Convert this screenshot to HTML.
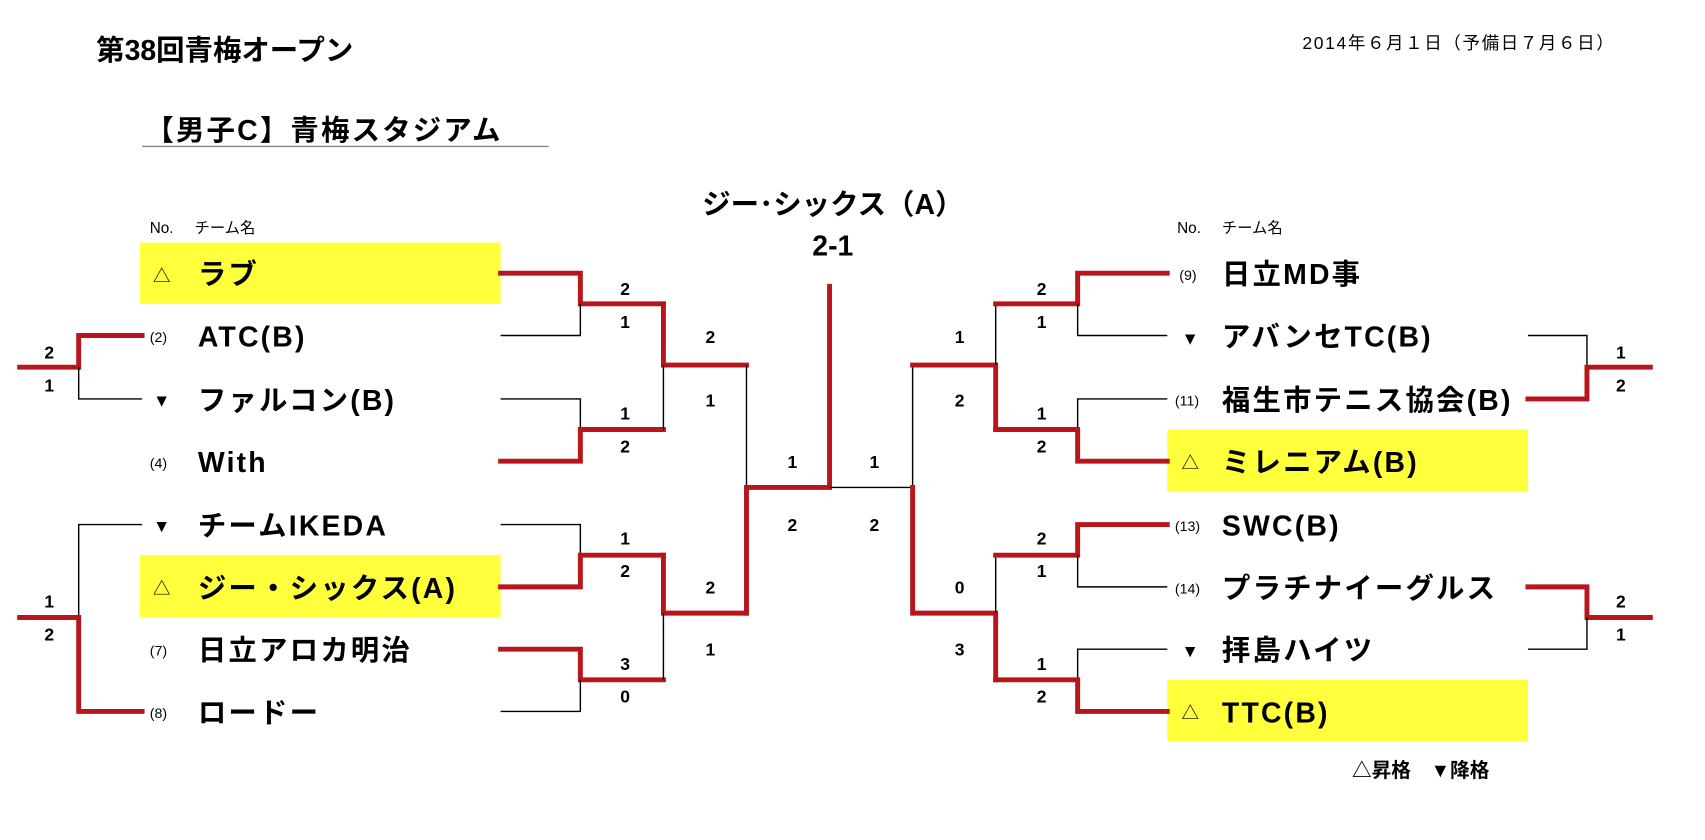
<!DOCTYPE html>
<html><head><meta charset="utf-8"><style>
html,body{margin:0;padding:0;background:#fff;}
svg{display:block;}
text{font-family:"Liberation Sans","Noto Sans CJK JP",sans-serif;fill:#000;}
.n{font-size:26px;font-weight:bold;letter-spacing:2px;}
.s{font-size:13px;}
.m{font-size:16px;}
.sc{font-size:16px;text-anchor:middle;font-weight:bold;}
.r{stroke:#b8161b;stroke-width:4.5;fill:none;stroke-linecap:square;}
.b{stroke:#000;stroke-width:1.3;fill:none;}
</style></head><body>
<svg width="1705" height="840" viewBox="0 0 1560 768.6" preserveAspectRatio="none" xmlns="http://www.w3.org/2000/svg">
<text x="88" y="55" style="font-size:26px;font-weight:bold">第38回青梅オープン</text>
<text x="1478" y="45" style="font-size:16px;text-anchor:end;letter-spacing:1.5px">2014年６月１日（予備日７月６日）</text>
<text x="133" y="128" style="font-size:26px;font-weight:bold;letter-spacing:2px">【男子C】青梅スタジアム</text>
<line x1="130" y1="134" x2="502" y2="134" stroke="#888" stroke-width="1.3"/>
<text x="762" y="196" style="font-size:26px;text-anchor:middle;font-weight:bold">ジー･シックス（A）</text>
<text x="762" y="234" style="font-size:26px;text-anchor:middle;font-weight:bold">2-1</text>
<text x="137" y="213" style="font-size:14px">No.</text><text x="178" y="213" style="font-size:14px">チーム名</text>
<text x="1077" y="213" style="font-size:14px">No.</text><text x="1118" y="213" style="font-size:14px">チーム名</text>
<rect x="128" y="222" width="330" height="56" fill="#ffff3c"/>
<rect x="128" y="508" width="330" height="57" fill="#ffff3c"/>
<rect x="1068" y="393" width="330" height="57" fill="#ffff3c"/>
<rect x="1068" y="622" width="330" height="56" fill="#ffff3c"/>
<text class="m" x="140" y="258">△</text><text class="n" x="181" y="260">ラブ</text>
<text class="s" x="137" y="313">(2)</text><text class="n" x="181" y="317">ATC(B)</text>
<text class="m" x="140" y="372">▼</text><text class="n" x="181" y="375">ファルコン(B)</text>
<text class="s" x="137" y="428">(4)</text><text class="n" x="181" y="432">With</text>
<text class="m" x="140" y="487">▼</text><text class="n" x="181" y="490">チームIKEDA</text>
<text class="m" x="140" y="544">△</text><text class="n" x="181" y="547">ジー・シックス(A)</text>
<text class="s" x="137" y="600">(7)</text><text class="n" x="181" y="604">日立アロカ明治</text>
<text class="s" x="137" y="657">(8)</text><text class="n" x="181" y="661">ロードー</text>
<text class="s" x="1079" y="256">(9)</text><text class="n" x="1118" y="260">日立MD事</text>
<text class="m" x="1081" y="315">▼</text><text class="n" x="1118" y="317">アバンセTC(B)</text>
<text class="s" x="1075" y="371">(11)</text><text class="n" x="1118" y="375">福生市テニス協会(B)</text>
<text class="m" x="1081" y="429">△</text><text class="n" x="1118" y="432">ミレニアム(B)</text>
<text class="s" x="1075" y="486">(13)</text><text class="n" x="1118" y="490">SWC(B)</text>
<text class="s" x="1075" y="543">(14)</text><text class="n" x="1118" y="547">プラチナイーグルス</text>
<text class="m" x="1081" y="601">▼</text><text class="n" x="1118" y="604">拝島ハイツ</text>
<text class="m" x="1081" y="658">△</text><text class="n" x="1118" y="661">TTC(B)</text>
<text x="1237" y="711" style="font-size:18px;font-weight:bold">△昇格　▼降格</text>
<polyline class="r" points="458,250 531,250 531,278 607,278"/>
<polyline class="b" points="458,307 531,307 531,278"/>
<polyline class="b" points="458,365 531,365 531,393"/>
<polyline class="r" points="458,422 531,422 531,393 607,393"/>
<polyline class="b" points="458,480 531,480 531,508"/>
<polyline class="r" points="458,537 531,537 531,508 607,508"/>
<polyline class="r" points="458,594 531,594 531,622 607,622"/>
<polyline class="b" points="458,651 531,651 531,622"/>
<polyline class="r" points="607,278 607,334 683,334"/>
<polyline class="b" points="607,393 607,334"/>
<polyline class="r" points="607,508 607,561 683,561"/>
<polyline class="b" points="607,622 607,561"/>
<polyline class="b" points="683,334 683,446"/>
<polyline class="r" points="683,561 683,446 759,446 759,262"/>
<polyline class="b" points="759,446 835,446 835,334"/>
<polyline class="r" points="835,446 835,561 911,561 911,622"/>
<polyline class="b" points="911,561 911,508"/>
<polyline class="r" points="835,334 911,334 911,393"/>
<polyline class="b" points="911,334 911,278"/>
<polyline class="r" points="1068,250 986,250 986,278 911,278"/>
<polyline class="b" points="1068,307 986,307 986,278"/>
<polyline class="b" points="1068,365 986,365 986,393"/>
<polyline class="r" points="1068,422 986,422 986,393 911,393"/>
<polyline class="r" points="1068,480 986,480 986,508 911,508"/>
<polyline class="b" points="1068,537 986,537 986,508"/>
<polyline class="b" points="1068,594 986,594 986,622"/>
<polyline class="r" points="1068,651 986,651 986,622 911,622"/>
<polyline class="r" points="130,307 72,307 72,336 18,336"/>
<polyline class="b" points="130,365 72,365 72,336"/>
<polyline class="b" points="130,480 72,480 72,565"/>
<polyline class="r" points="18,565 72,565 72,651 130,651"/>
<polyline class="b" points="1398,307 1452,307 1452,336"/>
<polyline class="r" points="1398,365 1452,365 1452,336 1510,336"/>
<polyline class="r" points="1398,537 1452,537 1452,565 1510,565"/>
<polyline class="b" points="1398,594 1452,594 1452,565"/>
<g>
<text class="sc" x="45" y="328">2</text><text class="sc" x="45" y="358">1</text>
<text class="sc" x="45" y="556">1</text><text class="sc" x="45" y="586">2</text>
<text class="sc" x="572" y="270">2</text><text class="sc" x="572" y="300">1</text>
<text class="sc" x="572" y="384">1</text><text class="sc" x="572" y="414">2</text>
<text class="sc" x="572" y="498">1</text><text class="sc" x="572" y="528">2</text>
<text class="sc" x="572" y="613">3</text><text class="sc" x="572" y="643">0</text>
<text class="sc" x="650" y="314">2</text><text class="sc" x="650" y="372">1</text>
<text class="sc" x="650" y="543">2</text><text class="sc" x="650" y="600">1</text>
<text class="sc" x="725" y="428">1</text><text class="sc" x="725" y="486">2</text>
<text class="sc" x="800" y="428">1</text><text class="sc" x="800" y="486">2</text>
<text class="sc" x="878" y="314">1</text><text class="sc" x="878" y="372">2</text>
<text class="sc" x="878" y="543">0</text><text class="sc" x="878" y="600">3</text>
<text class="sc" x="953" y="270">2</text><text class="sc" x="953" y="300">1</text>
<text class="sc" x="953" y="384">1</text><text class="sc" x="953" y="414">2</text>
<text class="sc" x="953" y="498">2</text><text class="sc" x="953" y="528">1</text>
<text class="sc" x="953" y="613">1</text><text class="sc" x="953" y="643">2</text>
<text class="sc" x="1483" y="328">1</text><text class="sc" x="1483" y="358">2</text>
<text class="sc" x="1483" y="556">2</text><text class="sc" x="1483" y="586">1</text>
</g>
</svg>
</body></html>
